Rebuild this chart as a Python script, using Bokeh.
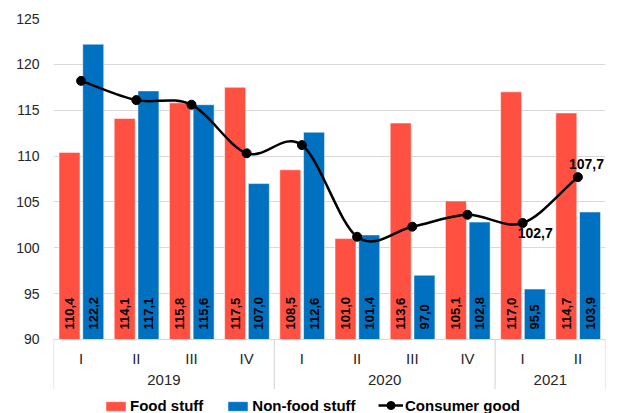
import math
from bokeh.plotting import figure
from bokeh.models import (FactorRange, Range1d, ColumnDataSource, Legend,
                          LegendItem, FixedTicker)
from bokeh.transform import dodge
from bokeh.core.properties import value
from bokeh.embed import file_html
from bokeh.resources import INLINE

# ---- data ----
years = ["2019", "2019", "2019", "2019", "2020", "2020", "2020", "2020", "2021", "2021"]
quarters = ["I", "II", "III", "IV", "I", "II", "III", "IV", "I", "II"]
food = [110.4, 114.1, 115.8, 117.5, 108.5, 101.0, 113.6, 105.1, 117.0, 114.7]
nonfood = [122.2, 117.1, 115.6, 107.0, 112.6, 101.4, 97.0, 102.8, 95.5, 103.9]
consumer = [118.2, 116.1, 115.6, 110.3, 111.2, 101.2, 102.3, 103.6, 102.7, 107.7]
y_ticks = [90, 95, 100, 105, 110, 115, 120, 125]

RED = "#FF5041"
BLUE = "#0070C0"
GRID = "#d9d9d9"
FONT = "Liberation Sans"
BASE = 90          # value axis baseline
Y_MIN = 81.93      # extra room below the baseline for the category axis + legend
SEP_END = 84.6     # where the year separators stop


def fmt(v):
    return f"{v:.1f}".replace(".", ",")


factors = list(zip(years, quarters))
src = ColumnDataSource(dict(
    x=factors, food=food, nonfood=nonfood, consumer=consumer,
    food_lbl=[fmt(v) for v in food], nonfood_lbl=[fmt(v) for v in nonfood],
))

xr = FactorRange(*factors, factor_padding=0, group_padding=0, range_padding=0)
p = figure(x_range=xr, y_range=Range1d(Y_MIN, 125), width=622, height=413,
           output_backend="svg", toolbar_location=None,
           min_border_left=53, min_border_right=17, min_border_top=18,
           min_border_bottom=0)

OFF_F, OFF_N, BW = -0.21, 0.22, 0.38
r_food = p.vbar(x=dodge("x", OFF_F, range=xr), top="food", bottom=BASE, width=BW,
                source=src, fill_color=RED, line_color="white", line_alpha=0.5)
r_non = p.vbar(x=dodge("x", OFF_N, range=xr), top="nonfood", bottom=BASE, width=BW,
               source=src, fill_color=BLUE, line_color="white", line_alpha=0.5)

for off, col in ((OFF_F, "food_lbl"), (OFF_N, "nonfood_lbl")):
    p.text(x=dodge("x", off, range=xr), y=BASE, text=col, source=src,
           angle=math.pi / 2, text_align="left", text_baseline="middle",
           y_offset=-10, text_font=value(FONT), text_font_style="bold",
           text_font_size="13px", text_color="black")

# year separators (group boundaries of the category axis)
sep_left = ColumnDataSource(dict(f=[("2019", "I"), ("2020", "I"), ("2021", "I")]))
sep_right = ColumnDataSource(dict(f=[("2021", "II")]))
for s, off in ((sep_left, -0.5), (sep_right, 0.5)):
    p.segment(x0=dodge("f", off, range=xr), y0=BASE, x1=dodge("f", off, range=xr),
              y1=SEP_END, source=s, line_color=GRID, line_width=1.2)

# smoothed consumer line (Catmull-Rom -> cubic Bezier)
n = len(consumer)
seg = dict(x0=[], x1=[], y0=[], y1=[], cy0=[], cy1=[])
for i in range(n - 1):
    yp = consumer[i - 1] if i > 0 else None
    yn = consumer[i + 2] if i + 2 < n else None
    t0 = (consumer[i + 1] - yp) / 6 if yp is not None else (consumer[i + 1] - consumer[i]) / 3
    t1 = (yn - consumer[i]) / 6 if yn is not None else (consumer[i + 1] - consumer[i]) / 3
    seg["x0"].append(factors[i])
    seg["x1"].append(factors[i + 1])
    seg["y0"].append(consumer[i])
    seg["y1"].append(consumer[i + 1])
    seg["cy0"].append(consumer[i] + t0)
    seg["cy1"].append(consumer[i + 1] - t1)
seg_src = ColumnDataSource(seg)
r_line = p.bezier(x0="x0", y0="y0", x1="x1", y1="y1",
                  cx0=dodge("x0", 1 / 3, range=xr), cy0="cy0",
                  cx1=dodge("x1", -1 / 3, range=xr), cy1="cy1",
                  source=seg_src, line_color="black", line_width=2.5)
r_pts = p.scatter(x="x", y="consumer", source=src, size=9, color="black")

p.text(x=[factors[8]], y=[consumer[8]], text=[fmt(consumer[8])],
       x_offset=-5, y_offset=10, text_align="left", text_baseline="middle",
       text_font=value(FONT), text_font_style="bold", text_font_size="14px",
       text_color="black")
p.text(x=[factors[9]], y=[consumer[9]], text=[fmt(consumer[9])],
       x_offset=-9, y_offset=-13, text_align="left", text_baseline="middle",
       text_font=value(FONT), text_font_style="bold", text_font_size="14px",
       text_color="black")

common = dict(orientation="horizontal", label_text_font=FONT,
              label_text_font_style="bold", label_text_font_size="15px",
              label_text_color="black", glyph_width=25, spacing=22,
              label_standoff=2, border_line_color=None, background_fill_alpha=0,
              padding=0, margin=0)
leg_bars = Legend(items=[
    LegendItem(label="Food stuff", renderers=[r_food]),
    LegendItem(label="Non-food stuff", renderers=[r_non]),
], location=(50, -1), glyph_height=12, **common)
leg_line = Legend(items=[
    LegendItem(label="Consumer good", renderers=[r_line, r_pts]),
], location=(325, -2), glyph_height=20, **common)
p.add_layout(leg_bars)
p.add_layout(leg_line)

# axes
p.yaxis.ticker = FixedTicker(ticks=y_ticks)
p.yaxis.axis_line_color = None
p.yaxis.major_tick_line_color = None
p.yaxis.minor_tick_line_color = None
p.yaxis.major_label_text_font = FONT
p.yaxis.major_label_text_font_size = "14px"
p.yaxis.major_label_text_color = "#262626"
p.yaxis.major_label_standoff = 8

p.xaxis.fixed_location = BASE
p.xaxis.axis_line_color = GRID
p.xaxis.major_tick_line_color = None
p.xaxis.major_label_text_font = FONT
p.xaxis.major_label_text_font_size = "15px"
p.xaxis.major_label_text_color = "#262626"
p.xaxis.group_text_font = FONT
p.xaxis.group_text_font_size = "15px"
p.xaxis.group_text_color = "#262626"
p.xaxis.group_text_font_style = "normal"
p.xaxis.separator_line_color = None

p.xgrid.grid_line_color = None
p.ygrid.grid_line_color = GRID
p.outline_line_color = None

open("out.html", "w").write(file_html(p, INLINE))
